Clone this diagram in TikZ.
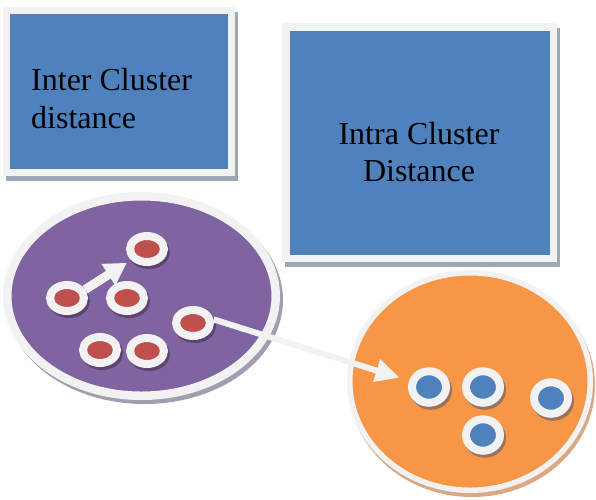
\documentclass[tikz,border=0pt]{standalone}
\usepackage{fontspec}
\setmainfont{Liberation Serif}
\usetikzlibrary{arrows.meta,shapes.geometric}
\definecolor{framecol}{HTML}{F2F2F2}
\definecolor{boxblue}{HTML}{4F81BD}
\definecolor{boxshadow}{HTML}{9DA7B6}
\definecolor{purplefill}{HTML}{8064A2}
\definecolor{purpleshadow}{HTML}{A39DB0}
\definecolor{orangefill}{HTML}{F79646}
\definecolor{orangeshadow}{HTML}{DBA881}
\definecolor{redfill}{HTML}{C0504D}
\definecolor{redringshadow}{HTML}{5B4570}
\definecolor{blueringshadow}{HTML}{9C7358}
\begin{document}
\begin{tikzpicture}[x=1pt,y=-1pt,
  box/.style={rectangle, draw=framecol, fill=boxblue, inner sep=0pt,
    preaction={fill=boxshadow, draw=boxshadow, transform canvas={shift={(3pt,-5pt)}}}},
  lbl/.style={inner sep=0pt, font=\fontsize{32}{38}\selectfont, text=black},
  cluster/.style={ellipse, draw=framecol, inner sep=0pt},
  ring/.style={ellipse, draw=framecol, line width=8pt, inner sep=0pt,
    minimum width=34pt},
  redring/.style={ring, fill=redfill, minimum height=26pt,
    preaction={fill=redringshadow, draw=redringshadow, transform canvas={shift={(2pt,-3pt)}}}},
  bluering/.style={ring, fill=boxblue, minimum height=31.5pt,
    preaction={fill=blueringshadow, draw=blueringshadow, transform canvas={shift={(2pt,-3pt)}}}},
  arrowa/.style={draw=framecol, line width=9pt, -{Triangle[width=24pt,length=22pt]}},
  arrowb/.style={draw=framecol, line width=6pt, -{Triangle[width=22pt,length=24pt]}}
]
\useasboundingbox (0,0) rectangle (596,499);

% boxes
\node[box, line width=7pt, minimum width=225pt, minimum height=162pt] (inter) at (119,91.5) {};
\node[box, line width=7.5pt, minimum width=267.5pt, minimum height=231.5pt] (intra) at (419.5,142.5) {};
\node[lbl, anchor=base west] (interA) at (31,90) {Inter Cluster};
\node[lbl, anchor=base west] (interB) at (31,128) {distance};
\node[lbl, anchor=base] (intraA) at (419,144) {Intra Cluster};
\node[lbl, anchor=base] (intraB) at (419,181) {Distance};

% clusters
\node[cluster, fill=purplefill, line width=8.5pt, minimum width=268.5pt, minimum height=199.5pt,
  preaction={fill=purpleshadow, draw=purpleshadow, transform canvas={shift={(3pt,-4pt)}}}] (purple) at (141.5,296) {};
\node[cluster, fill=orangefill, line width=5.5pt, minimum width=240.5pt, minimum height=217.5pt,
  preaction={fill=orangeshadow, draw=orangeshadow, transform canvas={shift={(2pt,-4pt)}}}] (orange) at (470,381.5) {};

% red points
\node[redring] (redT) at (147,249) {};
\node[redring] (redL) at (67,298) {};
\node[redring] (redM) at (127,298) {};
\node[redring] (redR) at (193,323) {};
\node[redring] (redBL) at (100,350) {};
\node[redring] (redBM) at (147,351) {};

% blue points
\node[bluering] (blueA) at (429,387) {};
\node[bluering] (blueB) at (483,387) {};
\node[bluering] (blueC) at (551,398) {};
\node[bluering] (blueD) at (483,435) {};

% arrows
\draw[arrowa, shorten >=5pt] (redL.25) -- (redT.215);
\draw[arrowb, shorten >=10pt] (redR.10) -- (blueA);
\end{tikzpicture}
\end{document}
